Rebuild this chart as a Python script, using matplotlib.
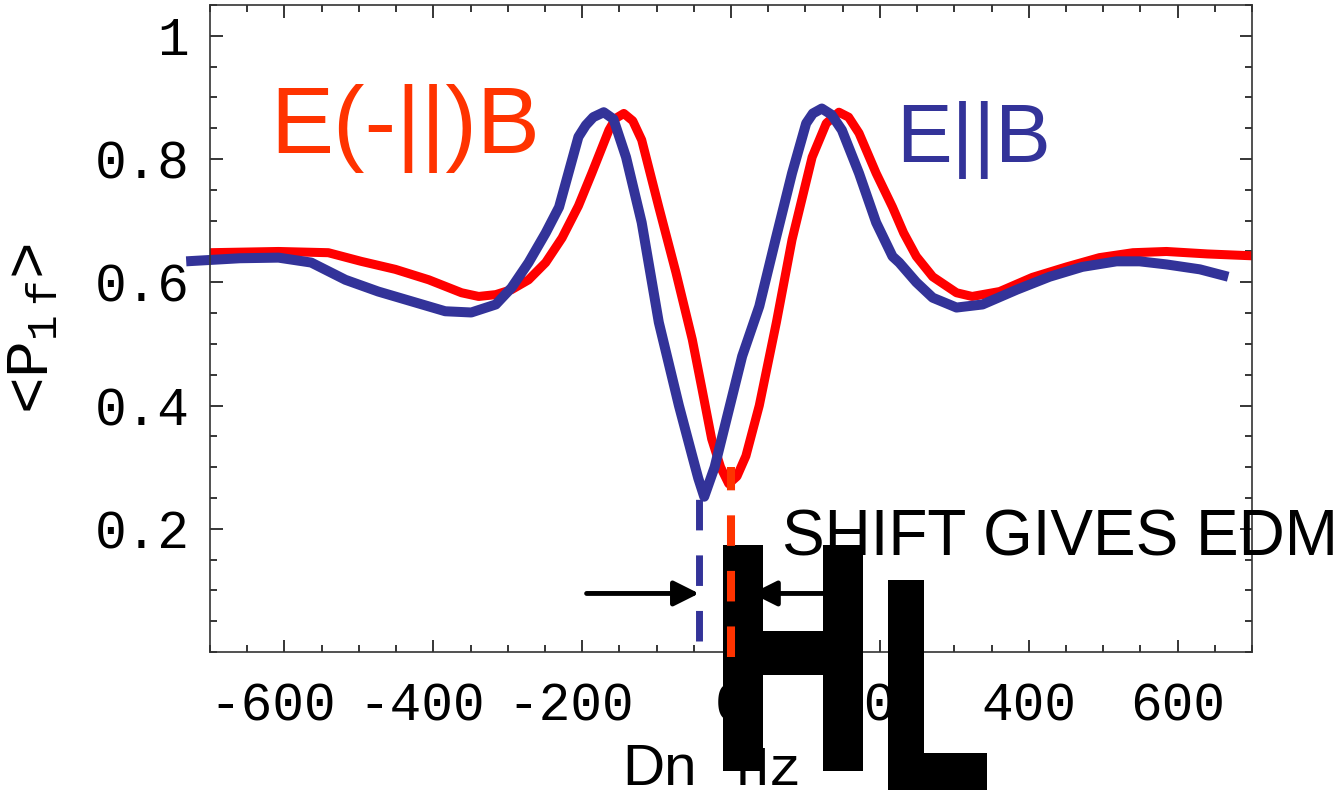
import matplotlib
matplotlib.use("Agg")
import matplotlib.pyplot as plt
from matplotlib import patheffects
from matplotlib.transforms import Affine2D, ScaledTranslation
from matplotlib.ticker import FixedLocator, MultipleLocator

plt.rcParams['mathtext.fontset'] = 'custom'
plt.rcParams['mathtext.rm'] = 'Liberation Mono'
plt.rcParams['mathtext.it'] = 'Liberation Mono'
plt.rcParams['lines.scale_dashes'] = False

# E(-||)B curve
red_x = [-700, -608, -541, -497, -451, -406, -362, -339, -316, -295, -272, -249,
         -227, -205, -187, -164, -155, -144, -132, -120, -97, -74, -52, -39, -26,
         -14, -3, 8, 20, 38, 61, 82, 109, 128, 145, 158, 172, 195, 217, 232, 249,
         271, 303, 324, 361, 405, 451, 495, 540, 585, 640, 700]
red_y = [0.648, 0.650, 0.648, 0.634, 0.621, 0.604, 0.583, 0.577, 0.580, 0.588,
         0.604, 0.632, 0.672, 0.724, 0.777, 0.847, 0.866, 0.874, 0.862, 0.831,
         0.722, 0.616, 0.507, 0.427, 0.346, 0.300, 0.273, 0.285, 0.318, 0.400,
         0.535, 0.669, 0.803, 0.858, 0.876, 0.868, 0.842, 0.777, 0.722, 0.680,
         0.642, 0.609, 0.583, 0.577, 0.585, 0.608, 0.625, 0.640, 0.648, 0.650,
         0.646, 0.643]

# E||B curve
blue_x = [-732, -660, -608, -564, -518, -474, -429, -384, -349, -316, -295, -272,
          -249, -231, -205, -195, -185, -171, -158, -141, -120, -97, -70, -52,
          -44, -36, -22, -7, 15, 38, 60, 82, 101, 110, 122, 135, 149, 172, 195,
          217, 226, 249, 271, 303, 338, 384, 428, 472, 518, 549, 585, 630, 668]
blue_y = [0.634, 0.639, 0.640, 0.632, 0.604, 0.585, 0.569, 0.553, 0.551, 0.564,
          0.591, 0.632, 0.680, 0.722, 0.836, 0.855, 0.868, 0.876, 0.865, 0.803,
          0.697, 0.535, 0.400, 0.318, 0.282, 0.252, 0.300, 0.373, 0.480, 0.561,
          0.670, 0.777, 0.858, 0.874, 0.882, 0.872, 0.847, 0.777, 0.697, 0.642,
          0.632, 0.600, 0.575, 0.559, 0.564, 0.588, 0.609, 0.625, 0.634, 0.634,
          0.629, 0.621, 0.609]

blue_mark = -43
red_mark = 0
arrow_y = 0.095

x_ticks = [-600, -400, -200, 0, 200, 400, 600]
x_tick_labels = ['-600', '-400', '-200', '0', '200', '400', '600']
y_ticks = [0.2, 0.4, 0.6, 0.8, 1.0]
y_tick_labels = ['0.2', '0.4', '0.6', '0.8', '1']

RED = '#ff0000'
ORANGE = '#ff3300'
BLUE = '#333399'
W, H = 1343, 790


class FitBox(patheffects.AbstractPathEffect):
    """squeeze a glyph into a box given in figure fraction"""
    def __init__(self, fig, box):
        super().__init__()
        self.fig = fig
        self.box = box

    def draw_path(self, renderer, gc, tpath, affine, rgbFace=None):
        ext = tpath.get_extents(affine)
        (x0, y0), (x1, y1) = self.fig.transFigure.transform(
            [self.box[:2], self.box[2:]])
        fit = (Affine2D().translate(-ext.x0, -ext.y0)
               .scale((x1 - x0) / ext.width, (y1 - y0) / ext.height)
               .translate(x0, y0))
        renderer.draw_path(gc, tpath, affine + fit, rgbFace)


def fx(px):
    return px / W


def fy(py):
    return 1 - py / H


fig = plt.figure(figsize=(W / 100, H / 100), dpi=100)
ax = fig.add_axes([fx(210), fy(652), fx(1252) - fx(210), fy(5) - fy(652)])

ax.plot(red_x, red_y, color=RED, lw=6.5, solid_joinstyle='round', zorder=2)
ax.plot(blue_x, blue_y, color=BLUE, lw=7.2, solid_capstyle='butt',
        solid_joinstyle='round', clip_on=False, zorder=2.2)

ax.plot([blue_mark, blue_mark], [0.018, 0.249], color=BLUE, lw=5,
        dashes=(22, 18), dash_capstyle='butt', clip_on=False, zorder=2.1)
ax.plot([red_mark, red_mark], [-0.008, 0.30], color=ORANGE, lw=5.8,
        dashes=(22, 18), dash_capstyle='butt', clip_on=False, zorder=4)

arrow = dict(arrowstyle='-|>', color='black', lw=3.5, mutation_scale=38,
             shrinkA=0, shrinkB=0)
ax.annotate('', xy=(blue_mark, arrow_y), xytext=(-194, arrow_y),
            arrowprops=arrow, zorder=2.5)
ax.annotate('', xy=(28, arrow_y), xytext=(145, arrow_y),
            arrowprops=arrow, zorder=2.5)

ax.set_xlim(-700, 700)
ax.set_ylim(0, 1.05)

ax.xaxis.set_major_locator(FixedLocator(x_ticks))
ax.xaxis.set_minor_locator(MultipleLocator(50))
ax.yaxis.set_major_locator(FixedLocator(y_ticks))
ax.yaxis.set_minor_locator(MultipleLocator(0.05))
ax.tick_params(which='both', direction='in', top=True, right=True,
               width=1.1, color='black')
ax.tick_params(which='major', length=9)
ax.tick_params(which='minor', length=5)
ax.tick_params(axis='x', which='major', pad=21)
ax.tick_params(axis='y', which='major', pad=15)
ax.set_xticklabels(x_tick_labels, family='Liberation Mono', fontsize=38)
ax.set_yticklabels(y_tick_labels, family='Liberation Mono', fontsize=38)

# digits sit centred on the tick, the minus hangs to the left
shift = ScaledTranslation(-12 / 100, 0, fig.dpi_scale_trans)
for lab in ax.get_xticklabels():
    if lab.get_text().startswith('-'):
        lab.set_transform(lab.get_transform() + shift)

for sp in ax.spines.values():
    sp.set_linewidth(1.2)
    sp.set_color('#333333')

ax.set_ylabel('<P$_{1\\ f}$>', family='Liberation Mono', fontsize=44)
ax.yaxis.set_label_coords(-0.143, 0.5)

fig.text(fx(270), fy(153), 'E(-||)B', family='Liberation Sans', fontsize=68,
         color=ORANGE, ha='left', va='baseline')
fig.text(fx(896), fy(162), 'E||B', family='Liberation Sans', fontsize=60,
         color=BLUE, ha='left', va='baseline')
fig.text(fx(782), fy(555), 'SHIFT GIVES EDM', family='Liberation Sans',
         fontsize=46, color='black', ha='left', va='baseline')

# axis title as it came out of the original export: "Dn (Hz)" with the
# brackets blown up into heavy "H" and "L" glyphs
fig.text(fx(622), fy(785), 'Dn', family='Liberation Sans', fontsize=42,
         ha='left', va='baseline')
ax.text(fx(736), fy(785), 'Hz', family='Liberation Mono', fontsize=40,
        ha='left', va='baseline', transform=fig.transFigure, clip_on=False,
        zorder=2.8)
ax.text(fx(723), fy(771), 'H', family='DejaVu Sans', weight='bold',
        fontsize=100, ha='left', va='baseline', transform=fig.transFigure,
        clip_on=False, zorder=3,
        path_effects=[FitBox(fig, (fx(723), fy(771), fx(863), fy(545)))])
ax.text(fx(888), fy(795), 'L', family='DejaVu Sans', weight='bold',
        fontsize=100, ha='left', va='baseline', transform=fig.transFigure,
        clip_on=False, zorder=3,
        path_effects=[FitBox(fig, (fx(888), fy(795), fx(987), fy(580)))])

fig.savefig('out.png', dpi=100)
